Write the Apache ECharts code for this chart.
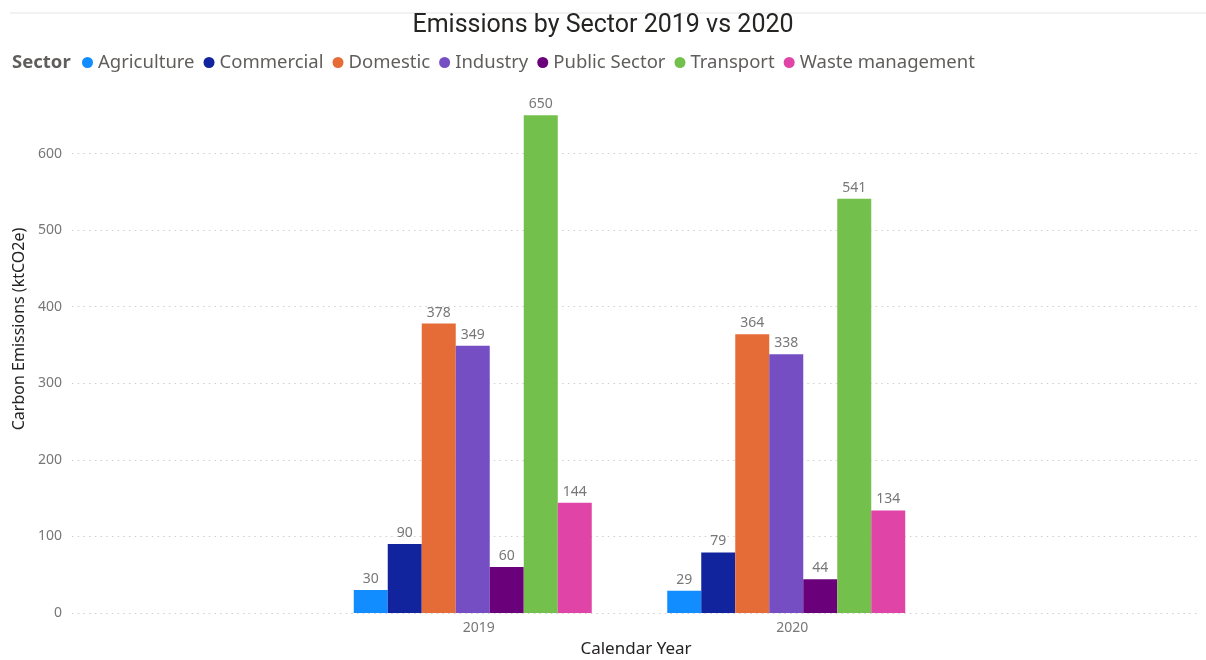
<!DOCTYPE html>
<html>
<head>
<meta charset="utf-8">
<script src="https://cdn.jsdelivr.net/npm/echarts@6/dist/echarts.min.js"></script>
<style>
  html, body { margin: 0; padding: 0; background: #fff; }
  #chart { width: 1206px; height: 660px; }
</style>
</head>
<body>
<div id="chart"></div>
<script>
// Emissions (ktCO2e) by sector, per calendar year
const years = ['2019', '2020'];
const sectors = ['Agriculture', 'Commercial', 'Domestic', 'Industry', 'Public Sector', 'Transport', 'Waste management'];
const agriculture = [30, 29];
const commercial = [90, 79];
const domestic = [378, 364];
const industry = [349, 338];
const publicSector = [60, 44];
const transport = [650, 541];
const wasteManagement = [144, 134];
const sectorValues = [agriculture, commercial, domestic, industry, publicSector, transport, wasteManagement];
const sectorColors = ['#118DFF', '#12239E', '#E66C37', '#744EC2', '#6B007B', '#74C04C', '#E044A7'];

const FONT = 'Noto Sans';
const plotTop = 77, plotBottom = 47;

const chart = echarts.init(document.getElementById('chart'));

const series = sectors.map((name, i) => ({
  name: name,
  type: 'bar',
  xAxisIndex: 1,
  yAxisIndex: 1,
  data: sectorValues[i],
  barWidth: 34,
  barGap: '0%',
  itemStyle: { color: sectorColors[i] },
  label: {
    show: true,
    position: 'top',
    distance: 4,
    color: '#777777',
    fontFamily: FONT,
    fontSize: 14
  }
}));

chart.setOption({
  animation: false,
  backgroundColor: '#ffffff',
  title: {
    text: 'Emissions by Sector 2019 vs 2020',
    left: 'center',
    top: 8,
    textStyle: { fontFamily: 'Roboto', fontWeight: 'normal', fontSize: 25, color: '#252423' }
  },
  legend: {
    data: sectors,
    left: 82,
    top: 53,
    padding: 0,
    icon: 'circle',
    itemWidth: 11,
    itemHeight: 11,
    itemGap: 9,
    textStyle: { fontFamily: FONT, fontSize: 18.5, color: '#605E5C' }
  },
  graphic: [
    {
      type: 'rect',
      shape: { x: 10, y: 12, width: 1196, height: 2 },
      style: { fill: '#f2f2f2' },
      silent: true
    },
    {
      type: 'text',
      x: 12,
      y: 63,
      style: {
        text: 'Sector', fontFamily: FONT, fontSize: 18.5, fontWeight: 'bold',
        fill: '#605E5C', verticalAlign: 'middle'
      },
      silent: true
    }
  ],
  grid: [
    { left: 72, right: 6, top: plotTop, bottom: plotBottom, outerBoundsMode: 'none' },
    { left: 316, width: 627, top: plotTop, bottom: plotBottom, outerBoundsMode: 'none' }
  ],
  xAxis: [
    {
      gridIndex: 0,
      type: 'value',
      min: 0, max: 1,
      name: 'Calendar Year',
      nameLocation: 'middle',
      nameGap: 28,
      nameTextStyle: { fontFamily: FONT, fontSize: 17, color: '#252423' },
      axisLine: { show: false },
      axisTick: { show: false },
      axisLabel: { show: false },
      splitLine: { show: false }
    },
    {
      gridIndex: 1,
      type: 'category',
      data: years,
      axisLine: { show: false },
      axisTick: { show: false },
      axisLabel: {
        fontFamily: FONT, fontSize: 14, color: '#777777', margin: 8,
        padding: [0, 0, 0, 12]
      },
      splitLine: { show: false }
    }
  ],
  yAxis: [
    {
      gridIndex: 0,
      type: 'value',
      min: 0, max: 700, interval: 100,
      name: 'Carbon Emissions (ktCO2e)',
      nameLocation: 'middle',
      nameGap: 36,
      nameTextStyle: { fontFamily: FONT, fontSize: 16, color: '#252423', padding: [0, 0, 0, 32] },
      axisLine: { show: false },
      axisTick: { show: false },
      axisLabel: { fontFamily: FONT, fontSize: 14, color: '#777777', margin: 10, showMaxLabel: false },
      splitLine: {
        show: true,
        showMaxLine: false,
        lineStyle: { color: '#cfcfcf', width: 1, type: [1.5, 4.2] }
      }
    },
    {
      gridIndex: 1,
      type: 'value',
      min: 0, max: 700, interval: 100,
      show: false,
      splitLine: { show: false }
    }
  ],
  series: series
});
</script>
</body>
</html>
